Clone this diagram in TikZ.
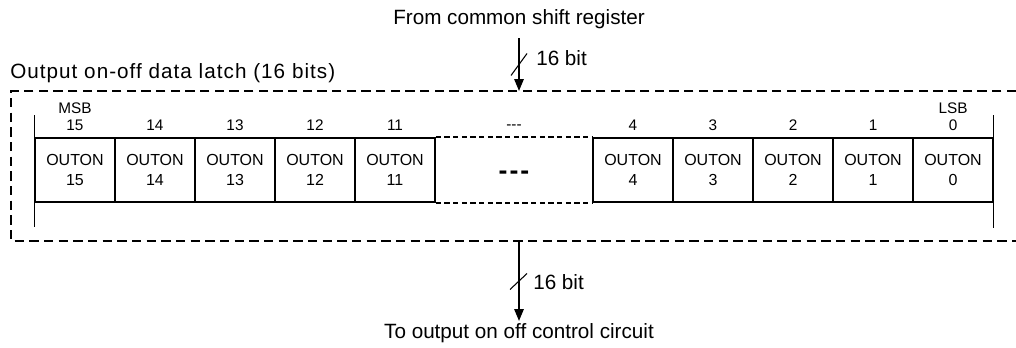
\documentclass[tikz,border=0pt]{standalone}
\usepackage{fontspec}
\setmainfont{Liberation Sans}
\newfontfamily\titlefont[LetterSpace=5]{Liberation Sans}
\usetikzlibrary{calc,arrows.meta,positioning}
\definecolor{latchInk}{RGB}{0,0,0}

\tikzset{
  outon/.style={draw=latchInk, line width=1.2pt, minimum width=60pt, minimum height=48pt,
    inner sep=0pt, align=center, font=\fontsize{12}{14.5}\selectfont},
  bitnum/.style={font=\fontsize{11.5}{13}\selectfont, inner sep=0pt},
  lbl/.style={font=\fontsize{15.5}{18}\selectfont, inner sep=0pt},
  busarrow/.style={line width=1.5pt, -{Triangle[width=7pt,length=9pt]}},
  gapline/.style={line width=1.1pt, dash pattern=on 4pt off 2.5pt},
}

\begin{document}
\begin{tikzpicture}[x=0.75pt,y=-0.75pt]
\useasboundingbox (0,0) rectangle (1016,347);

\node[lbl] (src) at (519,19) {From common shift register};
\node[lbl] (dst) at (519,333) {To output on off control circuit};
\node[lbl, anchor=west, font=\titlefont\fontsize{15.5}{18}\selectfont] (title) at (10,73) {Output on-off data latch (16 bits)};

% latch boundary, open on the right
\draw[latchInk, line width=1pt, dash pattern=on 7pt off 4pt] (1016,91) -- (11,91) -- (11,241) -- (1016,241);

% register cells
\foreach \b [count=\i from 0] in {15,14,13,12,11}
  \node[outon] (c\b) at (75+80*\i,170) {OUTON\\\b};
\foreach \b [count=\i from 0] in {4,3,2,1,0}
  \node[outon] (c\b) at (633+80*\i,170) {OUTON\\\b};
\foreach \b in {15,14,13,12,11,4,3,2,1,0}
  \node[bitnum, above=4.5pt of c\b] (n\b) {\b};

\node[bitnum, above=4.5pt of n15] (msb) {MSB};
\node[bitnum, above=4.5pt of n0] (lsb) {LSB};
\node[bitnum] (ngap) at (514,127) {-{}-{}-};
\node[font=\bfseries\fontsize{20}{24}\selectfont, inner sep=0pt] (gapdots) at (514,175) {-\kern1.5pt-\kern1.5pt-};

\draw[gapline] (c11.north east) -- (c4.north west);
\draw[gapline] (c11.south east) -- (c4.south west);

% bus rails
\draw[line width=0.8pt] ($(c15.north west)+(0,-22)$) -- ($(c15.south west)+(0,24)$);
\draw[line width=0.8pt] ($(c0.north east)+(0,-22)$) -- ($(c0.south east)+(0,25)$);

% input and output buses
\coordinate (inA) at (519,38);
\coordinate (inB) at (519,91);
\coordinate (outA) at (519,242);
\coordinate (outB) at (519,321);
\draw[busarrow] (inA) -- (inB) coordinate[pos=0.5] (inMid);
\draw[busarrow] (outA) -- (outB) coordinate[pos=0.5] (outMid);
\draw[line width=0.8pt] ($(inMid)+(-8,11)$) -- ($(inMid)+(8,-11)$);
\draw[line width=0.8pt] ($(outMid)+(-9,8)$) -- ($(outMid)+(8,-8)$);
\node[lbl, anchor=west] (inW) at (536,58) {16 bit};
\node[lbl, anchor=west] (outW) at (533,282) {16 bit};
\end{tikzpicture}
\end{document}
